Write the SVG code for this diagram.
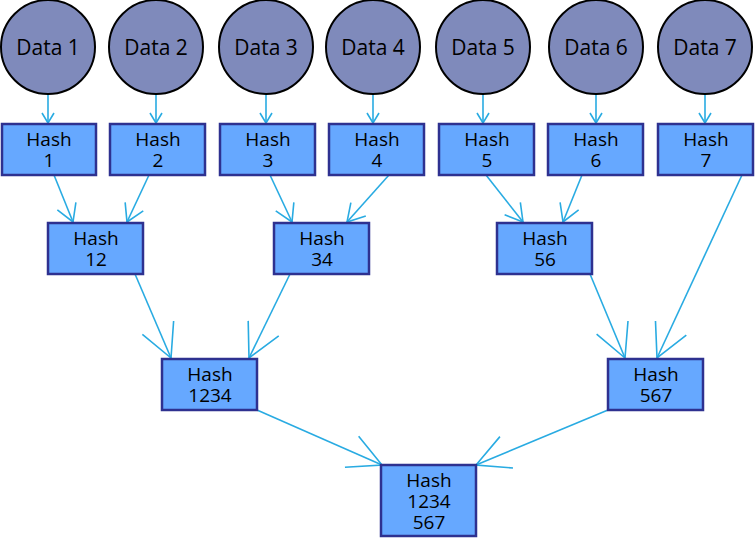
<svg xmlns="http://www.w3.org/2000/svg" width="755" height="538" viewBox="0 0 755 538">
<defs>
<style>
.c{fill:#7f8abb;stroke:#000;stroke-width:2}
.b{fill:#66a8ff;stroke:#2e3190;stroke-width:2.5}
.t{font-family:"Open Sans","Liberation Sans",sans-serif;font-size:19px;fill:#000;text-anchor:middle}
.d{font-size:21px}
.e{stroke:#29abe2;stroke-width:1.6;fill:none}
.h{stroke:#29abe2;stroke-width:1.6;fill:none}
</style>
<marker id="s" markerUnits="userSpaceOnUse" viewBox="-12 -8 13 16" markerWidth="13" markerHeight="16" refX="0" refY="0" orient="auto"><path class="h" d="M-10,-6 L0,0 L-10,6"/></marker>
<marker id="m" markerUnits="userSpaceOnUse" viewBox="-20 -12 21 24" markerWidth="21" markerHeight="24" refX="0" refY="0" orient="auto"><path class="h" d="M-17,-10 L0,0 L-17,10"/></marker>
<marker id="l" markerUnits="userSpaceOnUse" viewBox="-36 -20 37 40" markerWidth="37" markerHeight="40" refX="0" refY="0" orient="auto"><path class="h" d="M-33,-17 L0,0 L-33,17"/></marker>
</defs>
<g id="connectors">
<line class="e" x1="48" y1="95" x2="48" y2="123" marker-end="url(#s)"/>
<line class="e" x1="156" y1="95" x2="156" y2="123" marker-end="url(#s)"/>
<line class="e" x1="266" y1="95" x2="266" y2="123" marker-end="url(#s)"/>
<line class="e" x1="373" y1="95" x2="373" y2="123" marker-end="url(#s)"/>
<line class="e" x1="483" y1="95" x2="483" y2="123" marker-end="url(#s)"/>
<line class="e" x1="596" y1="95" x2="596" y2="123" marker-end="url(#s)"/>
<line class="e" x1="705" y1="95" x2="705" y2="123" marker-end="url(#s)"/>
<line class="e" x1="54" y1="175" x2="73" y2="222" marker-end="url(#m)"/>
<line class="e" x1="149" y1="175" x2="127" y2="222" marker-end="url(#m)"/>
<line class="e" x1="270" y1="175" x2="292" y2="222" marker-end="url(#m)"/>
<line class="e" x1="389" y1="175" x2="347" y2="222" marker-end="url(#m)"/>
<line class="e" x1="486" y1="175" x2="523" y2="222" marker-end="url(#m)"/>
<line class="e" x1="582" y1="175" x2="563" y2="222" marker-end="url(#m)"/>
<line class="e" x1="742" y1="175" x2="657" y2="358" marker-end="url(#l)"/>
<line class="e" x1="135" y1="274" x2="171" y2="358" marker-end="url(#l)"/>
<line class="e" x1="290" y1="274" x2="249" y2="358" marker-end="url(#l)"/>
<line class="e" x1="590" y1="274" x2="625" y2="358" marker-end="url(#l)"/>
<line class="e" x1="257" y1="410" x2="382" y2="465" marker-end="url(#l)"/>
<line class="e" x1="608" y1="410" x2="476" y2="465" marker-end="url(#l)"/>
</g>
<g id="d1"><circle class="c" cx="48" cy="47" r="47"/><text class="t d" x="48" y="55">Data 1</text></g>
<g id="d2"><circle class="c" cx="156" cy="47" r="47"/><text class="t d" x="156" y="55">Data 2</text></g>
<g id="d3"><circle class="c" cx="266" cy="47" r="47"/><text class="t d" x="266" y="55">Data 3</text></g>
<g id="d4"><circle class="c" cx="373" cy="47" r="47"/><text class="t d" x="373" y="55">Data 4</text></g>
<g id="d5"><circle class="c" cx="483" cy="47" r="47"/><text class="t d" x="483" y="55">Data 5</text></g>
<g id="d6"><circle class="c" cx="596" cy="47" r="47"/><text class="t d" x="596" y="55">Data 6</text></g>
<g id="d7"><circle class="c" cx="705" cy="47" r="47"/><text class="t d" x="705" y="55">Data 7</text></g>
<g id="h1"><rect class="b" x="2" y="124" width="94" height="51"/><text class="t" x="49" y="146">Hash</text><text class="t" x="49" y="167">1</text></g>
<g id="h2"><rect class="b" x="110" y="124" width="95" height="51"/><text class="t" x="158" y="146">Hash</text><text class="t" x="158" y="167">2</text></g>
<g id="h3"><rect class="b" x="220" y="124" width="95" height="51"/><text class="t" x="268" y="146">Hash</text><text class="t" x="268" y="167">3</text></g>
<g id="h4"><rect class="b" x="329" y="124" width="95" height="51"/><text class="t" x="377" y="146">Hash</text><text class="t" x="377" y="167">4</text></g>
<g id="h5"><rect class="b" x="439" y="124" width="95" height="51"/><text class="t" x="487" y="146">Hash</text><text class="t" x="487" y="167">5</text></g>
<g id="h6"><rect class="b" x="548" y="124" width="95" height="51"/><text class="t" x="596" y="146">Hash</text><text class="t" x="596" y="167">6</text></g>
<g id="h7"><rect class="b" x="658" y="124" width="95" height="51"/><text class="t" x="706" y="146">Hash</text><text class="t" x="706" y="167">7</text></g>
<g id="h12"><rect class="b" x="48" y="223" width="95" height="51"/><text class="t" x="96" y="245">Hash</text><text class="t" x="96" y="266">12</text></g>
<g id="h34"><rect class="b" x="274" y="223" width="95" height="51"/><text class="t" x="322" y="245">Hash</text><text class="t" x="322" y="266">34</text></g>
<g id="h56"><rect class="b" x="497" y="223" width="95" height="51"/><text class="t" x="545" y="245">Hash</text><text class="t" x="545" y="266">56</text></g>
<g id="h1234"><rect class="b" x="162" y="359" width="95" height="51"/><text class="t" x="210" y="381">Hash</text><text class="t" x="210" y="402">1234</text></g>
<g id="h567"><rect class="b" x="608" y="359" width="95" height="51"/><text class="t" x="656" y="381">Hash</text><text class="t" x="656" y="402">567</text></g>
<g id="hroot"><rect class="b" x="381" y="465" width="95" height="71"/><text class="t" x="429" y="487">Hash</text><text class="t" x="429" y="508">1234</text><text class="t" x="429" y="529">567</text></g>
</svg>
